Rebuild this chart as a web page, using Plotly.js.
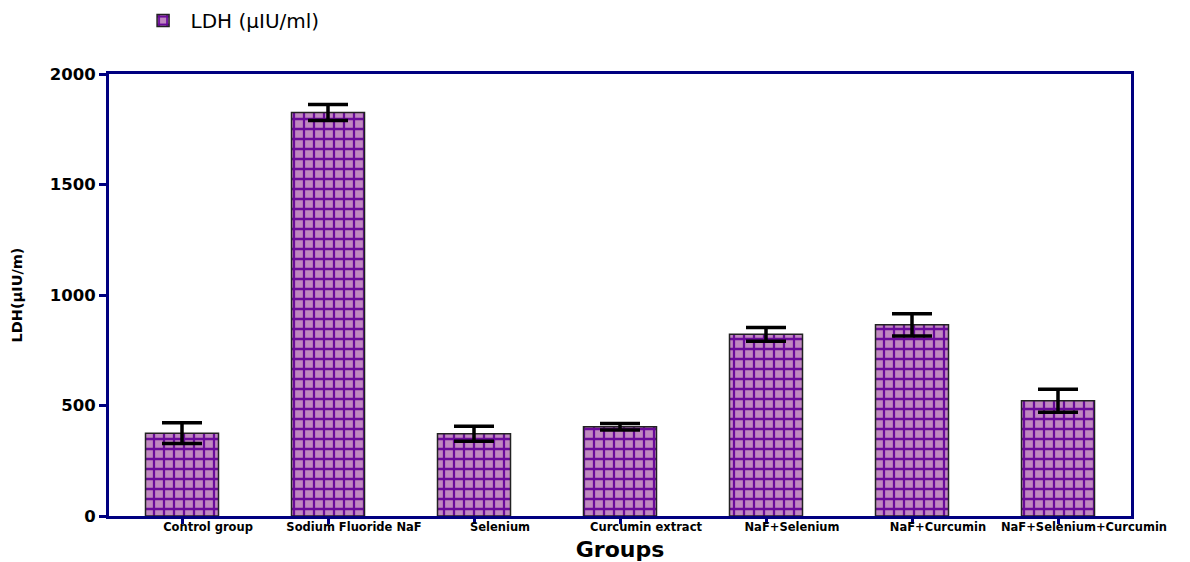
<!DOCTYPE html>
<html>
<head>
<meta charset="utf-8">
<script src="https://cdn.plot.ly/plotly-3.0.1.min.js"></script>
<style>html,body{margin:0;padding:0;background:#fff;}#chart{width:1190px;height:562px;}</style>
</head>
<body>
<div id="chart"></div>
<script>
const groups = ["Control group", "Sodium Fluoride NaF", "Selenium", "Curcumin extract", "NaF+Selenium", "NaF+Curcumin", "NaF+Selenium+Curcumin"];
const ldhMean = [375, 1826, 372, 404, 822, 865, 521];
const ldhErr = [47, 36, 34, 15, 31, 50, 52];
const seriesName = "LDH (µIU/ml)";

const trace = {
  type: "bar",
  x: groups,
  y: ldhMean,
  name: seriesName,
  width: 0.5,
  marker: {
    color: "#c088c0",
    line: {color: "#222222", width: 1.5},
    pattern: {shape: "+", fgcolor: "#6a0a9a", bgcolor: "#c088c0", size: 10, solidity: 0.4, fillmode: "replace"}
  },
  error_y: {type: "data", array: ldhErr, visible: true, color: "#000000", thickness: 3.5, width: 20}
};

const layout = {
  width: 1190, height: 562,
  margin: {l: 109, r: 59, t: 74, b: 46, autoexpand: false},
  paper_bgcolor: "#ffffff", plot_bgcolor: "#ffffff",
  font: {family: "DejaVu Sans, sans-serif", color: "#000"},
  showlegend: true,
  legend: {x: 0.026, y: 1.165, xanchor: "left", yanchor: "top", itemwidth: 45, font: {size: 20, color: "#000", family: "DejaVu Sans, sans-serif"}, bgcolor: "rgba(0,0,0,0)"},
  xaxis: {
    type: "category", range: [-0.5, 6.5],
    showline: true, linecolor: "#000080", linewidth: 3, mirror: true,
    ticks: "outside", ticklen: 5, tickwidth: 3, tickcolor: "#000080",
    ticklabelstandoff: -7, ticklabelshift: 26,
    tickfont: {size: 11.5, weight: "bold", color: "#000", family: "DejaVu Sans, sans-serif"},
    showgrid: false, zeroline: false,
    title: {text: "Groups", font: {size: 22, weight: "bold", color: "#000", family: "DejaVu Sans, sans-serif"}, standoff: 14}
  },
  yaxis: {
    range: [0, 2000], dtick: 500, tick0: 0,
    showline: true, linecolor: "#000080", linewidth: 3, mirror: true,
    ticks: "outside", ticklen: 7, tickwidth: 3, tickcolor: "#000080",
    tickfont: {size: 16.5, weight: "bold", color: "#000", family: "DejaVu Sans, sans-serif"},
    showgrid: false, zeroline: false,
    title: {text: "LDH(µIU/m)", font: {size: 14.5, weight: "bold", color: "#000", family: "DejaVu Sans, sans-serif"}, standoff: 24}
  },
  bargap: 0.5
};

Plotly.newPlot("chart", [trace], layout, {displayModeBar: false, staticPlot: true});
</script>
</body>
</html>
